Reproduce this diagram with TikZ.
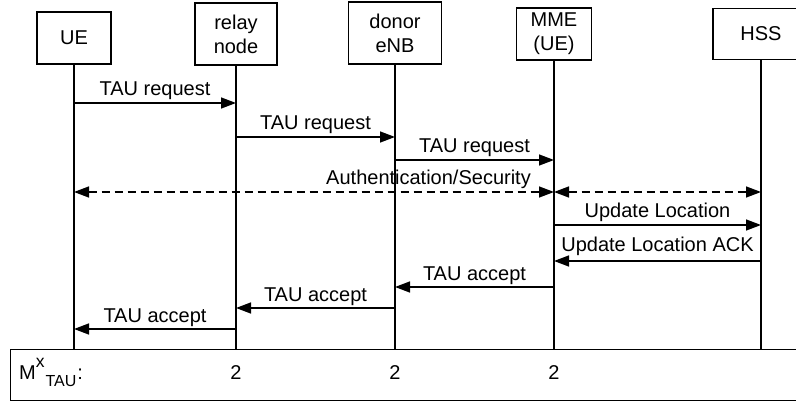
\documentclass[tikz,border=0pt]{standalone}
\usepackage{fontspec}
\setmainfont{Liberation Sans}
\usetikzlibrary{arrows.meta}
\begin{document}
\begin{tikzpicture}[x=1pt,y=-1pt,
  every node/.style={font=\fontsize{20}{24}\selectfont},
  actor/.style={draw, line width=1.4pt, rectangle, align=center, inner sep=0pt},
  life/.style={line width=1.4pt},
  msg/.style={line width=1.4pt, -{Triangle[length=15pt,width=11pt]}},
  dmsg/.style={line width=1.4pt, dash pattern=on 8pt off 5pt, {Triangle[length=15pt,width=11pt]}-{Triangle[length=15pt,width=11pt]}},
  lab/.style={above, inner sep=3pt}
]
\useasboundingbox (0,0) rectangle (796,401);
\clip (0,0) rectangle (796,401);
% actors
\node[actor, minimum width=74pt, minimum height=52pt] (ue) at (74,38) {UE};
\node[actor, minimum width=82pt, minimum height=62pt] (rn) at (236,34) {relay\\node};
\node[actor, minimum width=93pt, minimum height=62pt] (enb) at (395,33) {donor\\eNB};
\node[actor, minimum width=75pt, minimum height=52pt] (mme) at (554,34) {MME\\(UE)};
\node[actor, minimum width=96pt, minimum height=51pt] (hss) at (761,34) {HSS};
% bottom box
\node[draw, line width=1.4pt, rectangle, anchor=north west, minimum width=800pt, minimum height=51pt, inner sep=0pt] (mbox) at (10,349) {};
% lifelines
\foreach \n in {ue,rn,enb,mme,hss} {
  \draw[life] (\n.south) -- (\n.south |- mbox.north);
}
% messages
\draw[msg] (ue.south |- 0,103) -- node[lab] {TAU request} (rn.south |- 0,103);
\draw[msg] (rn.south |- 0,137) -- node[lab] {TAU request} (enb.south |- 0,137);
\draw[msg] (enb.south |- 0,160) -- node[lab] {TAU request} (mme.south |- 0,160);
\draw[dmsg] (ue.south |- 0,192) -- (mme.south |- 0,192);
\node[anchor=south east, inner sep=3pt] (auth) at (534,192) {Authentication/Security};
\draw[dmsg] (mme.south |- 0,192) -- (hss.south |- 0,192);
\draw[msg] (mme.south |- 0,225) -- node[lab] {Update Location} (hss.south |- 0,225);
\draw[msg] (hss.south |- 0,261) -- node[lab, inner sep=5pt] {Update Location ACK} (mme.south |- 0,261);
\draw[msg] (mme.south |- 0,287) -- node[lab, inner sep=2pt] {TAU accept} (enb.south |- 0,287);
\draw[msg] (enb.south |- 0,308) -- node[lab, inner sep=2pt] {TAU accept} (rn.south |- 0,308);
\draw[msg] (rn.south |- 0,329) -- node[lab, inner sep=2pt] {TAU accept} (ue.south |- 0,329);
% bottom box text
\node[anchor=base west, inner sep=0pt] (mx) at (19,379) {M\raisebox{12pt}{\fontsize{17.5}{17}\selectfont x}\kern1pt\raisebox{-7pt}{\fontsize{16}{16}\selectfont TAU}\kern1pt:};
\node[anchor=base, inner sep=0pt] (m1) at (rn.south |- 0,379) {2};
\node[anchor=base, inner sep=0pt] (m2) at (enb.south |- 0,379) {2};
\node[anchor=base, inner sep=0pt] (m3) at (mme.south |- 0,379) {2};
\end{tikzpicture}
\end{document}
